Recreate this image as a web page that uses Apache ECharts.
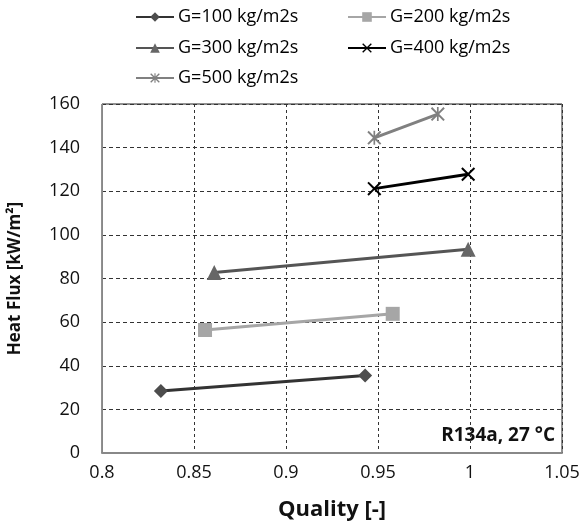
<!DOCTYPE html>
<html><head><meta charset="utf-8">
<script src="https://cdn.jsdelivr.net/npm/echarts@6/dist/echarts.min.js"></script>
<style>html,body{margin:0;padding:0;background:#fff}#c{width:583px;height:524px}</style>
</head><body><div id="c"></div>
<script>
const seriesNames = ['G=100 kg/m2s','G=200 kg/m2s','G=300 kg/m2s','G=400 kg/m2s','G=500 kg/m2s'];
const quality100 = [0.832, 0.943];
const flux100 = [28.4, 35.5];
const quality200 = [0.856, 0.958];
const flux200 = [56.4, 63.8];
const quality300 = [0.861, 0.999];
const flux300 = [82.7, 93.4];
const quality400 = [0.948, 0.999];
const flux400 = [121.2, 127.8];
const quality500 = [0.948, 0.9825];
const flux500 = [144.5, 155.4];
const xTicks = [0.8, 0.85, 0.9, 0.95, 1, 1.05];
const yTicks = [0, 20, 40, 60, 80, 100, 120, 140, 160];
const annotation = 'R134a, 27 °C';

const pairs = (xs, ys) => xs.map((x, i) => [x, ys[i]]);
const crossPath = 'path://M0,1L1,0L5,4L9,0L10,1L6,5L10,9L9,10L5,6L1,10L0,9L4,5Z';
const starPath = 'path://M0,1L1,0L5,4L9,0L10,1L6,5L10,9L9,10L5,6L1,10L0,9L4,5Z M4.4,0L5.6,0L5.6,10L4.4,10Z';

const font = '"Open Sans", sans-serif';
const styles = [
  {line:'#333333', fill:'#4d4d4d', symbol:'diamond', size:14},
  {line:'#a6a6a6', fill:'#a6a6a6', symbol:'rect', size:14},
  {line:'#555555', fill:'#666666', symbol:'triangle', size:15},
  {line:'#000000', fill:'#000000', symbol:crossPath, size:14},
  {line:'#808080', fill:'#808080', symbol:starPath, size:14}
];
const datasets = [
  pairs(quality100, flux100), pairs(quality200, flux200), pairs(quality300, flux300),
  pairs(quality400, flux400), pairs(quality500, flux500)
];

const chart = echarts.init(document.getElementById('c'));
const legendBase = {
  itemWidth: 38, itemHeight: 12, itemGap: 0,
  textStyle: {fontFamily: font, fontSize: 18, color: '#000', padding: [0,0,0,-1]},
  selectedMode: false
};
chart.setOption({
  animation: false,
  legend: [
    Object.assign({}, legendBase, {data:[seriesNames[0]], left: 130, top: 3}),
    Object.assign({}, legendBase, {data:[seriesNames[1]], left: 342, top: 3}),
    Object.assign({}, legendBase, {data:[seriesNames[2]], left: 130, top: 34}),
    Object.assign({}, legendBase, {data:[seriesNames[3]], left: 342, top: 34}),
    Object.assign({}, legendBase, {data:[seriesNames[4]], left: 130, top: 64})
  ],
  grid: {left: 102, right: 21, top: 104, bottom: 71, outerBoundsMode: 'none', containLabel: false,
    show: true, borderColor: '#222', borderWidth: 1, backgroundColor: 'transparent'},
  xAxis: {
    type: 'value', min: 0.8, max: 1.05, interval: 0.05,
    name: 'Quality [-]', nameLocation: 'middle', nameGap: 46,
    nameTextStyle: {fontFamily: font, fontSize: 22, fontWeight: 'bold', color: '#111'},
    axisLine: {show: true, lineStyle: {color: '#888', width: 2}},
    axisTick: {show: false},
    axisLabel: {fontFamily: font, fontSize: 18, color: '#111', margin: 11,
      formatter: v => { const t = xTicks.find(t => Math.abs(t - v) < 1e-6); return t === undefined ? '' : String(t); }},
    splitLine: {show: true, lineStyle: {color: '#333', type: [3,3], width: 1}}
  },
  yAxis: {
    type: 'value', min: 0, max: 160, interval: 20,
    name: 'Heat Flux [kW/m²]', nameLocation: 'middle', nameGap: 78,
    nameTextStyle: {fontFamily: font, fontSize: 17, fontWeight: 'bold', color: '#111'},
    axisLine: {show: true, lineStyle: {color: '#888', width: 1}},
    axisTick: {show: false},
    axisLabel: {fontFamily: font, fontSize: 18, color: '#111', margin: 22,
      formatter: v => yTicks.includes(v) ? String(v) : ''},
    splitLine: {show: true, lineStyle: {color: '#333', type: [4,3], width: 1}}
  },
  graphic: [{
    type: 'text', right: 28, top: 426,
    style: {text: annotation, font: 'bold 19px "Open Sans", sans-serif', fill: '#111'}
  }],
  series: datasets.map((d, i) => ({
    name: seriesNames[i], type: 'line', data: d,
    symbol: styles[i].symbol, symbolSize: styles[i].size, showSymbol: true,
    lineStyle: {color: styles[i].line, width: 3},
    itemStyle: {color: styles[i].fill, borderColor: styles[i].fill, borderWidth: 0}
  }))
});
</script></body></html>
